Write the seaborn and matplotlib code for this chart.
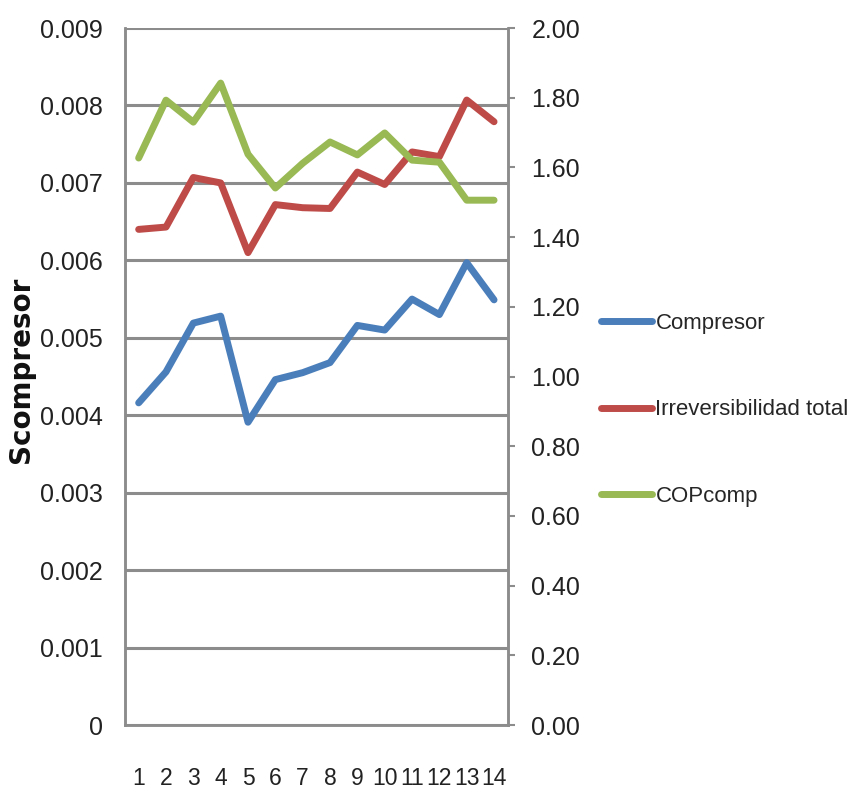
import pandas as pd
import matplotlib
matplotlib.use("Agg")
import matplotlib.pyplot as plt
import seaborn as sns
from matplotlib.ticker import FuncFormatter, MultipleLocator

# datos
puntos = list(range(1, 15))
compresor = [0.00416, 0.00456, 0.00519, 0.00528, 0.00391, 0.00446, 0.00455,
             0.00468, 0.00516, 0.00510, 0.00550, 0.00530, 0.00597, 0.00549]
irreversibilidad = [0.00640, 0.00643, 0.00707, 0.00700, 0.00610, 0.00672, 0.00668,
                    0.00667, 0.00714, 0.00698, 0.00740, 0.00734, 0.00807, 0.00779]
cop_comp = [1.627, 1.793, 1.730, 1.842, 1.638, 1.541, 1.612,
            1.673, 1.636, 1.699, 1.621, 1.615, 1.506, 1.506]

azul = "#4A7EBB"
rojo = "#BE4B48"
verde = "#98B954"
gris = "#8c8c8c"

sns.set_style("white")
plt.rcParams["font.family"] = ["Liberation Sans", "DejaVu Sans"]

df = pd.DataFrame({"punto": puntos, "Compresor": compresor,
                   "Irreversibilidad total": irreversibilidad, "COPcomp": cop_comp})

fig = plt.figure(figsize=(8.62, 8.08), dpi=100)
ax = fig.add_axes([0.145, 0.1027, 0.444, 0.8626])
ax2 = ax.twinx()

sns.lineplot(data=df, x="punto", y="Compresor", ax=ax, color=azul, lw=5, label="Compresor", legend=False)
sns.lineplot(data=df, x="punto", y="Irreversibilidad total", ax=ax, color=rojo, lw=5,
             label="Irreversibilidad total", legend=False)
sns.lineplot(data=df, x="punto", y="COPcomp", ax=ax2, color=verde, lw=5, label="COPcomp", legend=False)

ax.set_xlim(0.5, 14.5)
ax.set_ylim(0, 0.009)
ax2.set_ylim(0, 2.0)

ax.yaxis.set_major_locator(MultipleLocator(0.001))
ax.yaxis.set_major_formatter(FuncFormatter(lambda v, p: "0" if abs(v) < 1e-9 else "%.3f" % v))
ax2.yaxis.set_major_locator(MultipleLocator(0.2))
ax2.yaxis.set_major_formatter(FuncFormatter(lambda v, p: "%.2f" % v))
ax.set_xticks(puntos)
ax.set_xticklabels([str(p) for p in puntos])

ax.set_axisbelow(True)
ax.yaxis.grid(True, color=gris, lw=2.2)
ax.xaxis.grid(False)
ax2.grid(False)

for a in (ax, ax2):
    for s in a.spines.values():
        s.set_color(gris)
        s.set_linewidth(1.8)
    a.spines["top"].set_visible(False)

ax.tick_params(axis="y", length=0, pad=16, labelsize=18, colors="#222222")
ax.tick_params(axis="x", length=0, pad=30, labelsize=16.5, colors="#222222")
ax2.tick_params(axis="y", length=5, width=1.5, color=gris, pad=12, labelsize=18, labelcolor="#222222")

ax.set_xlabel("")
ax2.set_ylabel("")
ax.set_ylabel("Scompresor", fontsize=20, fontweight="bold", family="DejaVu Sans", color="#111111")
ax.yaxis.set_label_coords(-0.235, 0.51)

h1, l1 = ax.get_legend_handles_labels()
h2, l2 = ax2.get_legend_handles_labels()
fig.legend(h1 + h2, l1 + l2, loc="center left", bbox_to_anchor=(0.674, 0.4926),
           frameon=False, fontsize=16, handlelength=2.3, handletextpad=0.15, labelspacing=2.95)

fig.savefig("out.png", dpi=100)
